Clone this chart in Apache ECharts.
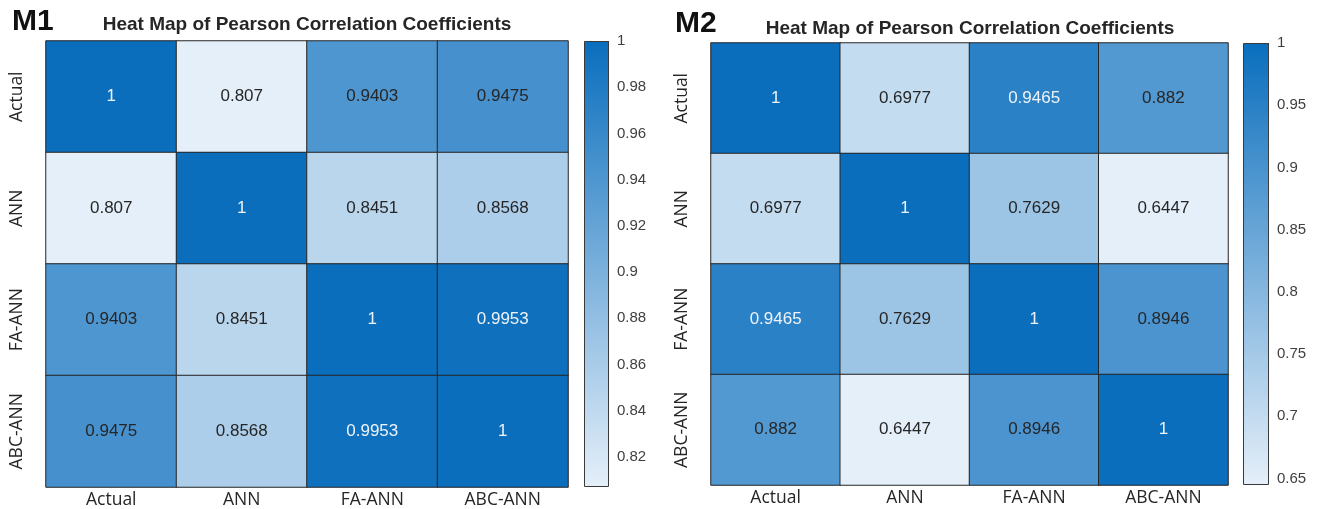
<!DOCTYPE html>
<html>
<head>
<meta charset="utf-8">
<script src="https://cdn.jsdelivr.net/npm/echarts@6/dist/echarts.min.js"></script>
<style>
  html, body { margin: 0; padding: 0; background: #ffffff; }
  #chart { width: 1321px; height: 509px; }
</style>
</head>
<body>
<div id="chart"></div>
<script>
// Models compared in both correlation matrices
const models = ['Actual', 'ANN', 'FA-ANN', 'ABC-ANN'];

// Pearson correlation coefficients, case M1 (rows/cols follow `models`)
const m1Values = [
  [1, 0.807, 0.9403, 0.9475],
  [0.807, 1, 0.8451, 0.8568],
  [0.9403, 0.8451, 1, 0.9953],
  [0.9475, 0.8568, 0.9953, 1]
];

// Pearson correlation coefficients, case M2
const m2Values = [
  [1, 0.6977, 0.9465, 0.882],
  [0.6977, 1, 0.7629, 0.6447],
  [0.9465, 0.7629, 1, 0.8946],
  [0.882, 0.6447, 0.8946, 1]
];

// Colour-bar tick labels
const m1Ticks = [0.82, 0.84, 0.86, 0.88, 0.9, 0.92, 0.94, 0.96, 0.98, 1];
const m2Ticks = [0.65, 0.7, 0.75, 0.8, 0.85, 0.9, 0.95, 1];

const LIGHT = '#E5EFF9';
const DARK = '#0A6EBD';
const INK = '#262626';
const VALUE_FONT = 'Liberation Sans, Arial, sans-serif';
const AXIS_FONT = 'Open Sans, sans-serif';

function flat(m) { return m.reduce((a, r) => a.concat(r), []); }

// Heatmap cells; text turns light on the darkest cells
function cells(matrix, lo, hi) {
  const out = [];
  matrix.forEach((row, i) => {
    row.forEach((v, j) => {
      const t = (v - lo) / (hi - lo);
      out.push({ value: [j, i, v], label: { color: t > 0.8 ? '#EEF3F9' : INK } });
    });
  });
  return out;
}

const fmtTick = v => String(+(+v).toFixed(2));

const m1Min = Math.min.apply(null, flat(m1Values));
const m1Max = Math.max.apply(null, flat(m1Values));
const m2Min = Math.min.apply(null, flat(m2Values));
const m2Max = Math.max.apply(null, flat(m2Values));

const gradient = new echarts.graphic.LinearGradient(0, 0, 0, 1, [
  { offset: 0, color: DARK },
  { offset: 1, color: LIGHT }
]);

function heatAxes(gridIndex) {
  return {
    x: {
      type: 'category', gridIndex, data: models, position: 'bottom',
      axisLine: { show: false }, axisTick: { show: false }, splitLine: { show: false },
      axisLabel: { fontFamily: AXIS_FONT, fontSize: 17.5, color: INK, margin: 4 }
    },
    y: {
      type: 'category', gridIndex, data: models, inverse: true,
      axisLine: { show: false }, axisTick: { show: false }, splitLine: { show: false },
      axisLabel: { fontFamily: AXIS_FONT, fontSize: 17.5, color: INK, rotate: 90, margin: 20 }
    }
  };
}

// Colour bar: a value axis on the right carrying the tick labels
function barAxes(gridIndex, lo, hi, ticks) {
  return {
    x: {
      type: 'category', gridIndex, data: [''],
      axisLine: { show: false }, axisTick: { show: false }, axisLabel: { show: false }
    },
    y: {
      type: 'value', gridIndex, min: lo, max: hi, position: 'right',
      axisLine: { show: false }, splitLine: { show: false },
      axisTick: { show: true, inside: true, length: 4, customValues: ticks, lineStyle: { color: '#333' } },
      axisLabel: {
        customValues: ticks, formatter: fmtTick, margin: 8,
        fontFamily: VALUE_FONT, fontSize: 15, color: '#404040'
      }
    }
  };
}

const h1 = heatAxes(0), b1 = barAxes(1, m1Min, m1Max, m1Ticks);
const h2 = heatAxes(2), b2 = barAxes(3, m2Min, m2Max, m2Ticks);

function heatSeries(xi, matrix, lo, hi) {
  return {
    type: 'heatmap', xAxisIndex: xi, yAxisIndex: xi,
    data: cells(matrix, lo, hi),
    label: {
      show: true, fontFamily: VALUE_FONT, fontSize: 17,
      formatter: p => String(p.value[2])
    },
    itemStyle: { borderColor: INK, borderWidth: 1 },
    emphasis: { disabled: true },
    silent: true
  };
}

// Stacked pair: an invisible base up to the scale minimum, then the gradient strip
function barSeries(xi, lo, hi, stack) {
  return [
    {
      type: 'bar', xAxisIndex: xi, yAxisIndex: xi, stack, silent: true,
      barWidth: '100%', data: [lo], itemStyle: { color: 'transparent' }
    },
    {
      type: 'bar', xAxisIndex: xi, yAxisIndex: xi, stack, silent: true,
      barWidth: '100%', data: [hi - lo],
      itemStyle: { color: gradient, borderColor: '#3a3a3a', borderWidth: 1 }
    }
  ];
}

const chart = echarts.init(document.getElementById('chart'), null, { renderer: 'canvas' });

chart.setOption({
  animation: false,
  backgroundColor: '#ffffff',
  grid: [
    { left: 46, top: 41, width: 522, height: 446 },
    { left: 584, top: 41, width: 25, height: 446 },
    { left: 711, top: 43, width: 517, height: 442 },
    { left: 1243, top: 43, width: 26, height: 442 }
  ],
  xAxis: [h1.x, b1.x, h2.x, b2.x],
  yAxis: [h1.y, b1.y, h2.y, b2.y],
  visualMap: [
    { type: 'continuous', show: false, seriesIndex: 0, min: m1Min, max: m1Max, inRange: { color: [LIGHT, DARK] } },
    { type: 'continuous', show: false, seriesIndex: 3, min: m2Min, max: m2Max, inRange: { color: [LIGHT, DARK] } }
  ],
  series: [
    heatSeries(0, m1Values, m1Min, m1Max),
    ...barSeries(1, m1Min, m1Max, 'cb1'),
    heatSeries(2, m2Values, m2Min, m2Max),
    ...barSeries(3, m2Min, m2Max, 'cb2')
  ],
  graphic: [
    { type: 'text', x: 12, y: 22, silent: true,
      style: { text: 'M1', fill: '#111', font: 'bold 30px Liberation Sans, Arial, sans-serif', align: 'left', verticalAlign: 'middle' } },
    { type: 'text', x: 307, y: 25, silent: true,
      style: { text: 'Heat Map of Pearson Correlation Coefficients', fill: INK, font: 'bold 19px Liberation Sans, Arial, sans-serif', align: 'center', verticalAlign: 'middle' } },
    { type: 'text', x: 675, y: 23.5, silent: true,
      style: { text: 'M2', fill: '#111', font: 'bold 30px Liberation Sans, Arial, sans-serif', align: 'left', verticalAlign: 'middle' } },
    { type: 'text', x: 970, y: 29, silent: true,
      style: { text: 'Heat Map of Pearson Correlation Coefficients', fill: INK, font: 'bold 19px Liberation Sans, Arial, sans-serif', align: 'center', verticalAlign: 'middle' } }
  ]
});
</script>
</body>
</html>
